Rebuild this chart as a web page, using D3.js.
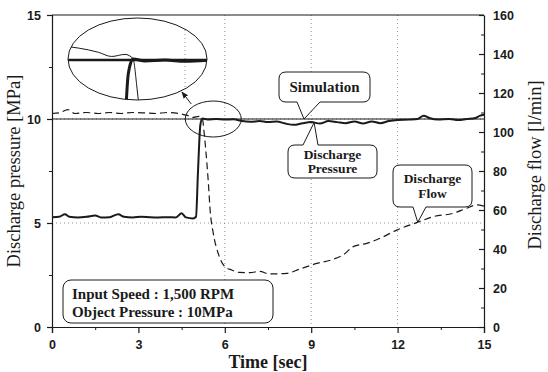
<!DOCTYPE html>
<html>
<head>
<meta charset="utf-8">
<script src="https://cdn.jsdelivr.net/npm/d3@7"></script>
<style>
  body { margin: 0; background: #fff; }
  svg { display: block; }
</style>
</head>
<body>
<div id="chart"></div>
<script>
// ---- data ----
const xTicks = [0, 3, 6, 9, 12, 15];
const pressureTicks = [0, 5, 10, 15];
const flowTicks = [0, 20, 40, 60, 80, 100, 120, 140, 160];

// measured discharge pressure [MPa]
const pressureT = [0, 0.25, 0.45, 0.6, 0.9, 1.2, 1.5, 1.7, 2.0, 2.3, 2.5, 2.8, 3.1, 3.4, 3.7, 4.0, 4.3, 4.5, 4.65, 4.9, 5.0, 5.07, 5.15, 5.22, 5.4, 5.7, 6.0, 6.3, 6.6, 6.9, 7.2, 7.5, 7.8, 8.1, 8.4, 8.7, 9.0, 9.3, 9.6, 9.9, 10.2, 10.5, 10.8, 11.1, 11.4, 11.7, 12.0, 12.4, 12.7, 12.9, 13.1, 13.4, 13.8, 14.1, 14.4, 14.7, 14.85, 15];
const pressureV = [5.28, 5.3, 5.42, 5.3, 5.27, 5.3, 5.36, 5.27, 5.28, 5.42, 5.3, 5.27, 5.3, 5.28, 5.27, 5.28, 5.27, 5.47, 5.27, 5.22, 5.3, 7.5, 9.7, 10.02, 9.98, 10.0, 9.97, 9.99, 9.9, 9.87, 9.9, 9.85, 9.88, 9.78, 9.72, 9.8, 9.85, 9.78, 9.9, 9.85, 9.8, 9.88, 9.78, 9.88, 9.8, 9.9, 9.95, 9.97, 10.0, 10.16, 10.05, 9.97, 10.0, 9.95, 10.0, 10.05, 10.15, 10.2];

// measured discharge flow [l/min]
const flowT = [0, 0.3, 0.55, 0.8, 1.2, 1.6, 2.0, 2.4, 2.8, 3.2, 3.6, 4.0, 4.4, 4.7, 4.9, 5.1, 5.22, 5.28, 5.34, 5.43, 5.49, 5.6, 5.77, 6.0, 6.24, 6.5, 6.88, 7.2, 7.57, 8.15, 8.6, 9.19, 9.76, 10.1, 10.46, 10.93, 11.39, 11.97, 12.66, 13.24, 13.93, 14.4, 14.75, 15];
const flowV = [109.5, 110, 111.5, 109.5, 110, 109.5, 110, 109.5, 110, 109.8, 109.5, 110, 109.5, 108.5, 107.5, 108, 107, 100, 90.7, 73.7, 60, 48, 37.8, 31, 29.2, 28, 27.9, 28.5, 27.2, 27.5, 29.7, 32.6, 34.7, 36.9, 41.2, 42.9, 45.5, 49.7, 53.5, 56.6, 58.3, 60.9, 62.6, 62];

// simulation [MPa]
const simT = [0, 15];
const simV = [10, 10];

const infoLines = ['Input Speed : 1,500 RPM', 'Object Pressure : 10MPa'];

// ---- layout ----
const width = 548, height = 372;
const margin = { top: 15, right: 64, bottom: 45, left: 52 };
const innerW = width - margin.left - margin.right;
const innerH = height - margin.top - margin.bottom;

const serif = '"Liberation Serif", "Times New Roman", serif';
const sans = '"Liberation Sans", Arial, sans-serif';
const ink = '#1a1a1a';

const pressure = pressureT.map((t, i) => ({ t: t, v: pressureV[i] }));
const flow = flowT.map((t, i) => ({ t: t, v: flowV[i] }));
const sim = simT.map((t, i) => ({ t: t, v: simV[i] }));

const svg = d3.select('#chart').append('svg')
    .attr('width', width)
    .attr('height', height);

const g = svg.append('g').attr('transform', 'translate(' + margin.left + ',' + margin.top + ')');

const x = d3.scaleLinear().domain([0, 15]).range([0, innerW]);
const yP = d3.scaleLinear().domain([0, 15]).range([innerH, 0]);
const yF = d3.scaleLinear().domain([0, 160]).range([innerH, 0]);

// grid (dotted)
const grid = g.append('g').attr('stroke', '#777').attr('stroke-width', 0.8).attr('stroke-dasharray', '1,3');
grid.selectAll('line.vx').data([6, 9, 12]).enter().append('line')
    .attr('x1', d => x(d)).attr('x2', d => x(d))
    .attr('y1', 0).attr('y2', innerH);
grid.selectAll('line.hy').data([5, 10]).enter().append('line')
    .attr('y1', d => yP(d)).attr('y2', d => yP(d))
    .attr('x1', 0).attr('x2', innerW);

// lines
const linePress = d3.line().x(d => x(d.t)).y(d => yP(d.v)).curve(d3.curveMonotoneX);
const lineFlow = d3.line().x(d => x(d.t)).y(d => yF(d.v)).curve(d3.curveMonotoneX);

g.append('path').datum(sim)
    .attr('d', linePress)
    .attr('fill', 'none').attr('stroke', ink).attr('stroke-width', 1);

g.append('path').datum(flow)
    .attr('d', lineFlow)
    .attr('fill', 'none').attr('stroke', ink).attr('stroke-width', 1.2)
    .attr('stroke-dasharray', '7,4');

g.append('path').datum(pressure)
    .attr('d', linePress)
    .attr('fill', 'none').attr('stroke', ink).attr('stroke-width', 2);

// axes
function styleAxis(sel) {
    sel.select('.domain').attr('stroke', ink).attr('stroke-width', 1.2);
    sel.selectAll('.tick line').attr('stroke', ink).attr('stroke-width', 1.2);
    sel.selectAll('text').attr('font-family', sans).attr('font-weight', 'bold')
        .attr('font-size', 12.5).attr('fill', ink);
}

const xAxis = g.append('g').attr('transform', 'translate(0,' + innerH + ')')
    .call(d3.axisBottom(x).tickValues(xTicks).tickSize(6).tickPadding(7).tickFormat(d3.format('d')));
styleAxis(xAxis);
g.append('g').attr('transform', 'translate(0,' + innerH + ')')
    .call(d3.axisBottom(x).tickValues(xTicks.slice(0, -1).map(d => d + 1.5)).tickSize(3).tickFormat(''))
    .call(s => { s.select('.domain').remove(); s.selectAll('line').attr('stroke', ink); });

const yAxisL = g.append('g')
    .call(d3.axisLeft(yP).tickValues(pressureTicks).tickSize(5).tickPadding(6).tickFormat(d3.format('d')));
styleAxis(yAxisL);
g.append('g')
    .call(d3.axisLeft(yP).tickValues([2.5, 7.5, 12.5]).tickSize(3).tickFormat(''))
    .call(s => { s.select('.domain').remove(); s.selectAll('line').attr('stroke', ink); });

const yAxisR = g.append('g').attr('transform', 'translate(' + innerW + ',0)')
    .call(d3.axisRight(yF).tickValues(flowTicks).tickSizeInner(-5).tickSizeOuter(0).tickPadding(9).tickFormat(d3.format('d')));
styleAxis(yAxisR);
g.append('g').attr('transform', 'translate(' + innerW + ',0)')
    .call(d3.axisRight(yF).tickValues(flowTicks.slice(0, -1).map(d => d + 10)).tickSize(-3).tickFormat(''))
    .call(s => { s.select('.domain').remove(); s.selectAll('line').attr('stroke', ink); });

// top border
g.append('line').attr('x1', 0).attr('x2', innerW).attr('y1', 0).attr('y2', 0)
    .attr('stroke', ink).attr('stroke-width', 1.2);

// axis titles
svg.append('text')
    .attr('x', margin.left + innerW / 2).attr('y', 368)
    .attr('text-anchor', 'middle')
    .attr('font-family', serif).attr('font-weight', 'bold').attr('font-size', 18)
    .attr('fill', ink).text('Time [sec]');

svg.append('text')
    .attr('transform', 'translate(20,' + (margin.top + innerH / 2) + ') rotate(-90)')
    .attr('text-anchor', 'middle')
    .attr('font-family', serif).attr('font-size', 18.5)
    .attr('fill', ink).text('Discharge pressure [MPa]');

svg.append('text')
    .attr('transform', 'translate(541,' + (margin.top + innerH / 2 - 6) + ') rotate(-90)')
    .attr('text-anchor', 'middle')
    .attr('font-family', serif).attr('font-size', 18.5)
    .attr('fill', ink).text('Discharge flow [l/min]');

// ---- magnified inset (drawn from the same arrays, own scales) ----
const inset = { cx: 137.5, cy: 59, rx: 69.5, ry: 41 };
const ix = d3.scaleLinear().domain([5.1, 6]).range([125, 185]);
const iy = d3.scaleLinear().domain([10, 11]).range([60, 15]);
const flowToP = v => v * 15 / 160;

svg.append('clipPath').attr('id', 'insetClip')
    .append('ellipse').attr('cx', inset.cx).attr('cy', inset.cy).attr('rx', inset.rx).attr('ry', inset.ry);

svg.append('ellipse')
    .attr('cx', inset.cx).attr('cy', inset.cy).attr('rx', inset.rx).attr('ry', inset.ry)
    .attr('fill', '#fff').attr('stroke', ink).attr('stroke-width', 1);

const ig = svg.append('g').attr('clip-path', 'url(#insetClip)');
ig.append('line')
    .attr('x1', ix(6)).attr('x2', ix(6)).attr('y1', inset.cy - inset.ry).attr('y2', inset.cy + inset.ry)
    .attr('stroke', '#777').attr('stroke-width', 0.8).attr('stroke-dasharray', '1,3');
ig.append('path').datum(flow)
    .attr('d', d3.line().x(d => ix(d.t)).y(d => iy(flowToP(d.v))).curve(d3.curveMonotoneX))
    .attr('fill', 'none').attr('stroke', ink).attr('stroke-width', 1);
ig.append('path').datum(sim)
    .attr('d', d3.line().x(d => ix(d.t)).y(d => iy(d.v)))
    .attr('fill', 'none').attr('stroke', ink).attr('stroke-width', 2.5);
ig.append('path').datum(pressure)
    .attr('d', d3.line().x(d => ix(d.t)).y(d => iy(d.v)).curve(d3.curveMonotoneX))
    .attr('fill', 'none').attr('stroke', ink).attr('stroke-width', 3);

// small ellipse around the jump + arrow to inset
const smallE = { cx: margin.left + x(5.6), cy: margin.top + yP(10), rx: 28, ry: 18 };
svg.append('ellipse')
    .attr('cx', smallE.cx).attr('cy', smallE.cy).attr('rx', smallE.rx).attr('ry', smallE.ry)
    .attr('fill', 'none').attr('stroke', ink).attr('stroke-width', 1);

svg.append('defs').append('marker')
    .attr('id', 'arrow').attr('viewBox', '0 0 10 10').attr('refX', 9).attr('refY', 5)
    .attr('markerWidth', 7).attr('markerHeight', 7).attr('orient', 'auto')
    .append('path').attr('d', 'M0,1 L10,5 L0,9 Z').attr('fill', ink);
svg.append('line')
    .attr('x1', smallE.cx - 22).attr('y1', smallE.cy - 15)
    .attr('x2', 182).attr('y2', 92)
    .attr('stroke', ink).attr('stroke-width', 1).attr('marker-end', 'url(#arrow)');

// ---- callouts ----
function valueAt(data, t) {
    const i = d3.bisector(d => d.t).left(data, t);
    if (i <= 0) return data[0].v;
    if (i >= data.length) return data[data.length - 1].v;
    const a = data[i - 1], b = data[i];
    return a.v + (b.v - a.v) * (t - a.t) / (b.t - a.t);
}

function calloutPath(bx, by, w, h, r, b1, b2, tip, top) {
    const p = d3.path();
    if (!top) {
        p.moveTo(b2, by + h);
        p.lineTo(bx + w - r, by + h);
        p.quadraticCurveTo(bx + w, by + h, bx + w, by + h - r);
        p.lineTo(bx + w, by + r);
        p.quadraticCurveTo(bx + w, by, bx + w - r, by);
        p.lineTo(bx + r, by);
        p.quadraticCurveTo(bx, by, bx, by + r);
        p.lineTo(bx, by + h - r);
        p.quadraticCurveTo(bx, by + h, bx + r, by + h);
        p.lineTo(b1, by + h);
        p.lineTo(tip[0], tip[1]);
        p.closePath();
    } else {
        p.moveTo(b1, by);
        p.lineTo(tip[0], tip[1]);
        p.lineTo(b2, by);
        p.lineTo(bx + w - r, by);
        p.quadraticCurveTo(bx + w, by, bx + w, by + r);
        p.lineTo(bx + w, by + h - r);
        p.quadraticCurveTo(bx + w, by + h, bx + w - r, by + h);
        p.lineTo(bx + r, by + h);
        p.quadraticCurveTo(bx, by + h, bx, by + h - r);
        p.lineTo(bx, by + r);
        p.quadraticCurveTo(bx, by, bx + r, by);
        p.closePath();
    }
    return p.toString();
}

function callout(box, tipT, tipY, lines, top, size) {
    const tip = [margin.left + x(tipT), margin.top + tipY];
    svg.append('path')
        .attr('d', calloutPath(box.x, box.y, box.w, box.h, 7, box.b1, box.b2, tip, top))
        .attr('fill', '#fff').attr('stroke', ink).attr('stroke-width', 1);
    const lh = size + 1;
    const y0 = box.y + box.h / 2 - (lines.length - 1) * lh / 2 + size * 0.35;
    lines.forEach((s, i) => {
        svg.append('text')
            .attr('x', box.x + box.w / 2).attr('y', y0 + i * lh)
            .attr('text-anchor', 'middle')
            .attr('font-family', serif).attr('font-weight', 'bold').attr('font-size', size)
            .attr('fill', ink).text(s);
    });
}

callout({ x: 279, y: 72, w: 91, h: 30, b1: 297, b2: 320 }, 8.75, yP(valueAt(sim, 8.75)), ['Simulation'], false, 15);
callout({ x: 288, y: 145, w: 89, h: 33, b1: 303, b2: 318 }, 9.1, yP(valueAt(pressure, 9.1)), ['Discharge', 'Pressure'], true, 13.5);
callout({ x: 393, y: 165, w: 79, h: 42, b1: 413, b2: 426 }, 12.7, yF(valueAt(flow, 12.7)), ['Discharge', 'Flow'], false, 13.5);

// info box
svg.append('rect')
    .attr('x', 63).attr('y', 280).attr('width', 210).attr('height', 43).attr('rx', 8)
    .attr('fill', '#fff').attr('stroke', ink).attr('stroke-width', 1);
svg.selectAll('text.info').data(infoLines).enter().append('text')
    .attr('class', 'info')
    .attr('x', 72).attr('y', (d, i) => 299 + i * 18)
    .attr('font-family', serif).attr('font-weight', 'bold').attr('font-size', 15)
    .attr('fill', ink).text(d => d);
</script>
</body>
</html>
